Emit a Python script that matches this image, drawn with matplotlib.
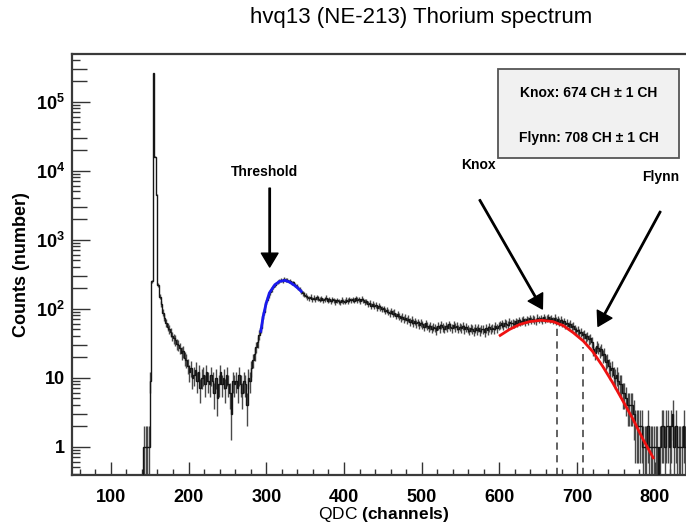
import numpy as np
import matplotlib
matplotlib.use("Agg")
import matplotlib.pyplot as plt
from matplotlib.patches import Rectangle
from matplotlib.ticker import FixedLocator, FixedFormatter, MultipleLocator, NullFormatter

plt.rcParams["font.family"] = ["Liberation Sans", "DejaVu Sans"]
plt.rcParams["mathtext.fontset"] = "custom"
plt.rcParams["mathtext.rm"] = "Liberation Sans"
plt.rcParams["mathtext.bf"] = "Liberation Sans:bold"

# QDC spectrum, 2-channel bins starting at channel 140
bin_start = 140
bin_width = 2
counts_peak = [0, 1, 1, 1, 1, 9, 248, 260000, 16000, 4500, 220, 150, 118, 88, 74]
counts_valley = [
    62, 55, 50, 46, 40, 37, 35, 31, 30, 27,
    23, 24, 19, 18, 15, 12, 14, 10, 11, 13,
    9, 12, 7, 10, 11, 8, 12, 9, 8, 11,
    9, 6, 10, 5, 8, 12, 8, 10, 7, 11,
    8, 6, 3, 9, 8,
]
counts_rise = [
    9, 7, 11, 8, 6, 9, 8, 4, 10, 9,
    14, 18, 22, 28, 33, 42, 52, 70, 90, 115,
    135, 155, 172, 190, 205, 220, 232, 245, 250, 262,
    255, 268, 258, 262, 248, 252, 238, 240, 222, 215,
    200, 192, 178, 168, 160,
]
counts_plateau = [
    155, 147, 143, 150, 138, 144, 136, 147, 139, 135,
    141, 133, 138, 145, 131, 136, 129, 138, 132, 126,
    133, 128, 124, 134, 129, 127, 135, 130, 138, 133,
    137, 131, 142, 134, 138, 129, 140, 133, 125, 128,
    117, 122, 111, 118, 109, 113, 102, 109, 104, 98,
    101, 94, 97, 91, 86, 93, 85, 88, 79, 83,
    78, 73, 77, 70, 74, 68, 72, 65, 69, 63,
    66, 61, 64, 58, 63, 59, 55, 61, 57, 53,
    56, 51, 55, 53, 49, 56, 52, 58, 54, 51,
    57, 53, 59, 55, 52, 58, 54, 57, 51, 55,
    52, 56, 50, 54, 51, 48, 53, 50, 47, 52,
    49, 53, 47, 51, 50, 46, 52, 49, 54, 50,
    53, 50, 56, 52, 57,
]
counts_edge = [
    58, 61, 56, 63, 60, 58, 65, 61, 63, 60,
    66, 62, 68, 64, 67, 71, 65, 70, 67, 73,
    68, 72, 69, 66, 74, 70, 73, 68, 75, 70,
    72, 76, 70, 73, 68, 74, 67, 71, 65, 69,
    63, 66, 59, 62, 57, 60, 54, 56, 51, 48,
    49, 44, 46, 41, 43, 38, 40, 36, 37, 33,
    26, 23, 29, 27, 24, 26, 21, 22, 17, 18,
    15, 13, 14, 11, 10, 11, 9, 8, 8, 6,
]
counts_tail = [
    6, 5, 4, 4, 4, 4, 3, 2, 2, 2,
    2, 2, 1, 1, 1, 2, 1, 1, 1, 1,
    1, 1, 0, 1, 2, 2, 1, 2, 2, 1,
    2, 3, 1, 2, 1, 1, 1, 1, 2, 1,
    2, 1, 1, 2, 1, 1, 2, 1, 1, 1,
]

# fitted curves
threshold_fit_channel = [293, 296, 300, 304, 311, 317, 324, 330, 337, 343, 345]
threshold_fit_counts = [47, 77, 121, 169, 222, 248, 257, 243, 215, 188, 178]
edge_fit_channel = [601, 613, 626, 639, 654, 669, 682, 695, 708, 720, 733, 746, 759, 772, 785, 798]
edge_fit_counts = [41, 50, 59, 65, 68, 65, 57, 45, 34, 24, 14.6, 8.4, 4.6, 2.5, 1.27, 0.69]

marker_names = ["Knox", "Flynn"]
marker_channels = [674, 708]
marker_tops = [55, 28]
marker_errors = [1, 1]

ytick_values = [1, 10, 100, 1e3, 1e4, 1e5]
ytick_labels = ["1", "10", r"$\mathbf{10^{2}}$", r"$\mathbf{10^{3}}$",
                r"$\mathbf{10^{4}}$", r"$\mathbf{10^{5}}$"]

counts = np.array(counts_peak + counts_valley + counts_rise + counts_plateau
                  + counts_edge + counts_tail, dtype=float)
edges = bin_start + bin_width * np.arange(len(counts) + 1)
centers = 0.5 * (edges[:-1] + edges[1:])

W, H = 686, 522
fig = plt.figure(figsize=(W / 100, H / 100), dpi=100)
# axes runs past the right edge of the canvas, as in the original screenshot
ax = fig.add_axes([72 / W, 47 / H, 629.4 / W, 421 / H])
ax.set_yscale("log")
ax.set_xlim(50, 860)
ax.set_ylim(0.389, 4.9e5)

filled = counts > 0
err = np.sqrt(counts[filled])
ax.vlines(centers[filled], counts[filled] - err, counts[filled] + err,
          color="#4a4a4a", lw=1.0, zorder=2)
ax.stairs(counts, edges, baseline=None, color="#151515", lw=1.0, zorder=3)

ax.plot(threshold_fit_channel, threshold_fit_counts, color="#1a1aee", lw=2.0, zorder=4)
ax.plot(edge_fit_channel, edge_fit_counts, color="#ee1111", lw=2.0, zorder=4)

for ch, top in zip(marker_channels, marker_tops):
    ax.plot([ch, ch], [0.389, top], color="#555555", lw=1.3, ls=(0, (4, 3)), zorder=2)

arrow_kw = dict(facecolor="black", edgecolor="black", width=1.0, headwidth=12,
                headlength=10, shrink=0.0)
ax.annotate("", xy=(304.4, 401), xytext=(304.4, 5580), arrowprops=arrow_kw)
ax.annotate("", xy=(655.3, 99), xytext=(574.6, 3776), arrowprops=arrow_kw)
ax.annotate("", xy=(726.9, 55.5), xytext=(807.2, 2560), arrowprops=arrow_kw)
ax.text(298, 9700, "Threshold", ha="center", va="center", fontsize=10, fontweight="bold")
ax.text(573, 12100, "Knox", ha="center", va="center", fontsize=10, fontweight="bold")
ax.text(808, 8180, "Flynn", ha="center", va="center", fontsize=10, fontweight="bold")

# ticks, ROOT style
ax.xaxis.set_major_locator(MultipleLocator(100))
ax.xaxis.set_minor_locator(MultipleLocator(20))
ax.yaxis.set_major_locator(FixedLocator(ytick_values))
ax.yaxis.set_major_formatter(FixedFormatter(ytick_labels))
minor_locs = [m * 10.0 ** k for k in range(-1, 6) for m in range(2, 10)]
ax.yaxis.set_minor_locator(FixedLocator(minor_locs))
ax.yaxis.set_minor_formatter(NullFormatter())
ax.tick_params(axis="both", which="both", direction="in", top=False, right=False,
               colors="#333333", labelcolor="black", width=1.0)
ax.tick_params(axis="x", which="major", length=9.5, pad=10, labelsize=13)
ax.tick_params(axis="x", which="minor", length=4.3)
ax.tick_params(axis="y", which="major", length=13, pad=5, labelsize=13)
ax.tick_params(axis="y", which="minor", length=5.8)
for lab in ax.get_xticklabels() + ax.get_yticklabels():
    lab.set_fontweight("bold")

locs = ax.yaxis.get_minorticklocs()
for loc, tick in zip(locs, ax.yaxis.get_minor_ticks(len(locs))):
    mant = loc / 10.0 ** np.floor(np.log10(loc) + 1e-9)
    if round(mant) in (2, 3):
        tick.tick1line.set_markersize(11)

for side in ("left", "bottom", "top", "right"):
    ax.spines[side].set_color("#3a3a3a")
    ax.spines[side].set_linewidth(1.6)

# result box
fig.add_artist(Rectangle((498 / W, 1 - 158 / H), 181 / W, 89 / H, transform=fig.transFigure,
                         facecolor="#f1f1f1", edgecolor="#555555", lw=1.3, zorder=5))
box_rows = [f"{n}: {c} CH \u00b1 {e} CH" for n, c, e in zip(marker_names, marker_channels, marker_errors)]
for row, ypix in zip(box_rows, [92.7, 138]):
    fig.text(588.5 / W, 1 - ypix / H, row, ha="center", va="center", fontsize=10,
             fontweight="bold", zorder=6)

fig.text(421 / W, 1 - 17 / H, "hvq13 (NE-213) Thorium spectrum", ha="center", va="center",
         fontsize=16)
fig.text(22 / W, 1 - 264.5 / H, "Counts (number)", rotation=90, ha="center", va="center",
         fontsize=13, fontweight="bold")
fig.text(384 / W, 1 - 514 / H, r"QDC $\mathbf{(channels)}$", ha="center", va="center",
         fontsize=12.5)

fig.savefig("out.png", dpi=100)
